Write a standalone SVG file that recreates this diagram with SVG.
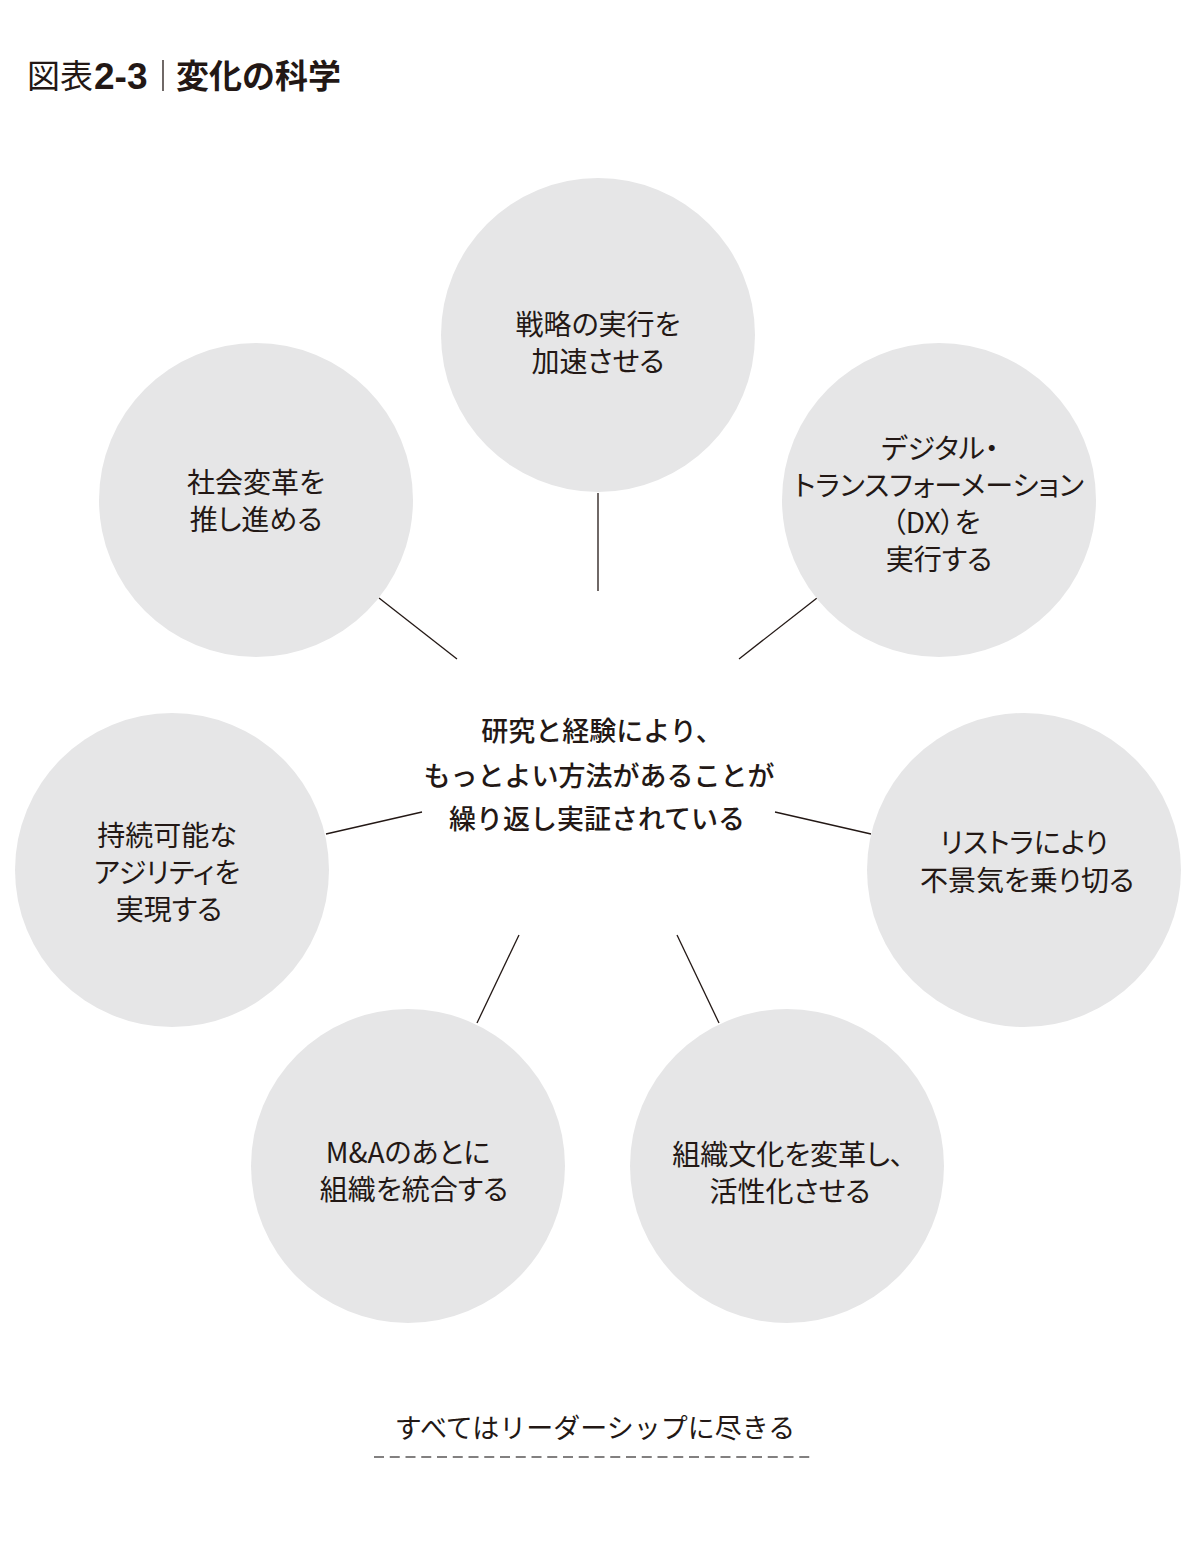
<svg xmlns="http://www.w3.org/2000/svg" width="1196" height="1556" viewBox="0 0 1196 1556">
<style>
.bg{fill:#ffffff}
.node circle{fill:#e6e6e7}
.t{font-family:"Noto Sans CJK JP","Noto Sans",sans-serif;fill:#231815;text-anchor:middle}
.nt{font-size:28px;font-feature-settings:"palt";}
.ct{font-size:27px;font-weight:500}
.conn line{stroke:#231815;stroke-width:1.3}
.title{font-family:"Noto Sans CJK JP","Noto Sans",sans-serif;fill:#231815;font-size:33px}
</style>
<rect class="bg" x="0" y="0" width="1196" height="1556"/>
<g id="title">
<text class="title" x="27" y="88">図表</text>
<text x="94" y="89" style="font-family:'Liberation Sans',Arial,sans-serif;font-weight:700;font-size:37px;fill:#231815">2-3</text>
<line x1="163" y1="60" x2="163" y2="91" stroke="#231815" stroke-width="1.3"/>
<text class="title" x="176" y="88" font-weight="700">変化の科学</text>
</g>
<g id="connectors" class="conn">
<line x1="598" y1="493" x2="598" y2="591"/>
<line x1="379" y1="598" x2="457" y2="659"/>
<line x1="817" y1="598" x2="739" y2="659"/>
<line x1="326" y1="834" x2="422" y2="812"/>
<line x1="775" y1="812" x2="871" y2="834"/>
<line x1="519" y1="935" x2="477" y2="1023"/>
<line x1="677" y1="935" x2="719" y2="1023"/>
</g>
<g id="center">
<text class="t ct" x="602" y="741">研究と経験により、</text>
<text class="t ct" x="599" y="786">もっとよい方法があることが</text>
<text class="t ct" x="597" y="829">繰り返し実証されている</text>
</g>
<g id="node-top" class="node">
<circle cx="598" cy="335" r="157"/>
<text class="t nt" x="598" y="335">戦略の実行を</text>
<text class="t nt" x="598" y="372">加速させる</text>
</g>
<g id="node-upper-left" class="node">
<circle cx="256" cy="500" r="157"/>
<text class="t nt" x="256" y="493">社会変革を</text>
<text class="t nt" x="256" y="530">推し進める</text>
</g>
<g id="node-upper-right" class="node">
<circle cx="939" cy="500" r="157"/>
<text class="t nt" x="940" y="459">デジタル・</text>
<text class="t nt" x="939" y="496">トランスフォーメーション</text>
<text class="t nt" x="936" y="533">（DX）を</text>
<text class="t nt" x="939" y="570">実行する</text>
</g>
<g id="node-left" class="node">
<circle cx="172" cy="870" r="157"/>
<text class="t nt" x="167" y="846">持続可能な</text>
<text class="t nt" x="167" y="883">アジリティを</text>
<text class="t nt" x="169" y="920">実現する</text>
</g>
<g id="node-right" class="node">
<circle cx="1024" cy="870" r="157"/>
<text class="t nt" x="1024" y="853">リストラにより</text>
<text class="t nt" x="1027" y="891">不景気を乗り切る</text>
</g>
<g id="node-bottom-left" class="node">
<circle cx="408" cy="1166" r="157"/>
<text class="t nt" x="408" y="1163">M&amp;Aのあとに</text>
<text class="t nt" x="414" y="1200">組織を統合する</text>
</g>
<g id="node-bottom-right" class="node">
<circle cx="787" cy="1166" r="157"/>
<text class="t nt" x="788" y="1165">組織文化を変革し、</text>
<text class="t nt" x="790" y="1202">活性化させる</text>
</g>
<g id="footer">
<text class="t" x="595" y="1438" style="font-size:27px">すべてはリーダーシップに尽きる</text>
<line x1="374" y1="1457" x2="815" y2="1457" stroke="#595757" stroke-width="1.4" stroke-dasharray="10 5.75"/>
</g>
</svg>
